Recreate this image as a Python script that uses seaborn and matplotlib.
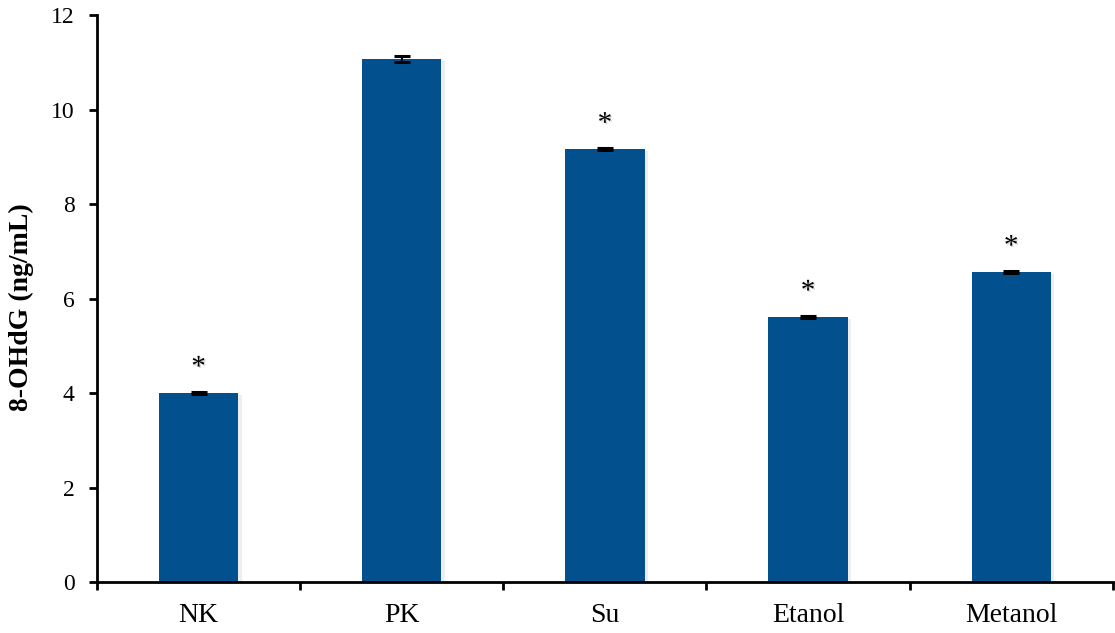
import matplotlib
matplotlib.use("Agg")
import matplotlib.pyplot as plt
import matplotlib.patheffects as pe
import numpy as np
import pandas as pd
import seaborn as sns

# Group labels and measured 8-OHdG concentrations (ng/mL)
groups = ["NK", "PK", "Su", "Etanol", "Metanol"]
means = [4.00, 11.07, 9.16, 5.61, 6.56]
errors = [0.02, 0.06, 0.02, 0.02, 0.02]
significant = [True, False, True, True, True]
y_ticks = [0, 2, 4, 6, 8, 10, 12]

df = pd.DataFrame({"group": groups, "value": means})

sns.set_theme(style="white")
plt.rcParams["font.family"] = ["Liberation Serif", "DejaVu Serif"]
plt.rcParams["text.color"] = "black"
plt.rcParams["axes.labelcolor"] = "black"
plt.rcParams["xtick.color"] = "black"
plt.rcParams["ytick.color"] = "black"

fig = plt.figure(figsize=(11.15, 6.33), dpi=100)
ax = fig.add_axes([0.087, 0.0806, 0.911, 0.8955])

bar_color = "#03508F"
sns.barplot(data=df, x="group", y="value", color=bar_color, width=0.39,
            saturation=1, errorbar=None, ax=ax)
for patch in ax.patches:
    patch.set_edgecolor("none")
    patch.set_path_effects([pe.SimplePatchShadow(offset=(2.5, -1.5), alpha=0.12,
                                                 shadow_rgbFace="#777777"),
                            pe.Normal()])

xpos = np.arange(len(groups))
ax.errorbar(xpos, means, yerr=errors, fmt="none", ecolor="black",
            elinewidth=1.5, capsize=5.5, capthick=2.2)

for x, m, e, sig in zip(xpos, means, errors, significant):
    if sig:
        ax.annotate("*", xy=(x, m + e), xytext=(0, 8), textcoords="offset points",
                    ha="center", va="bottom", fontsize=21, color="black",
                    path_effects=[pe.withSimplePatchShadow(offset=(1, -1), alpha=0.15)])

ax.set_xlim(-0.5, len(groups) - 0.5)
ax.set_ylim(0, 12)
ax.set_yticks(y_ticks)
ax.set_yticklabels([str(t) for t in y_ticks])

# category labels centred, tick marks on the category boundaries
ax.set_xticks(xpos)
ax.set_xticks(np.arange(-0.5, len(groups)), minor=True)
ax.tick_params(axis="x", which="major", length=0, pad=15, labelsize=20,
               labelcolor="black")
ax.tick_params(axis="x", which="minor", length=6, width=2, direction="out",
               bottom=True, color="black")
ax.tick_params(axis="y", which="major", length=6, width=2, direction="out",
               left=True, color="black", pad=10, labelsize=17, labelcolor="black")

ax.set_xlabel("")
ax.set_ylabel("8-OHdG (ng/mL)", fontsize=20, fontweight="bold", labelpad=14,
              color="black")
ax.yaxis.set_label_coords(-0.062, 0.485)

for side in ["top", "right"]:
    ax.spines[side].set_visible(False)
for side in ["left", "bottom"]:
    ax.spines[side].set_visible(True)
    ax.spines[side].set_color("black")
    ax.spines[side].set_linewidth(2)

fig.savefig("out.png", dpi=100)
